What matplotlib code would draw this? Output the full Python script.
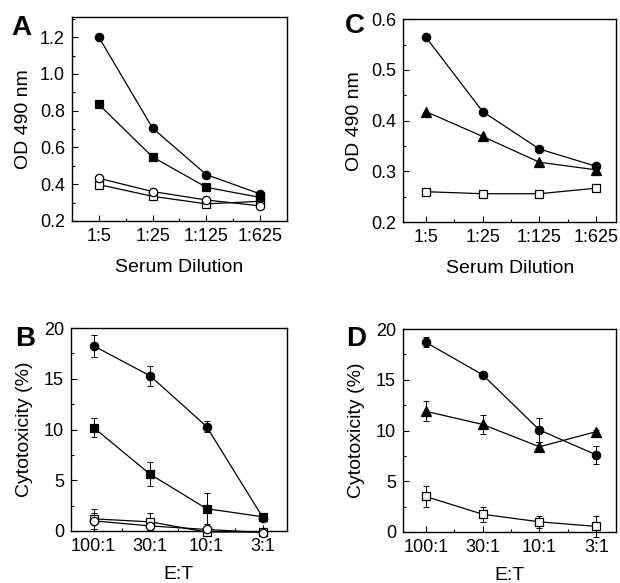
import matplotlib
matplotlib.use("Agg")
import matplotlib.pyplot as plt
from matplotlib.ticker import MultipleLocator, FixedLocator

plt.rcParams['font.family'] = ['Liberation Sans', 'DejaVu Sans']

dilutions = ["1:5", "1:25", "1:125", "1:625"]
et_ratios = ["100:1", "30:1", "10:1", "3:1"]

# Panel A (OD 490 nm)
a_filled_circle = [1.20, 0.705, 0.452, 0.347]
a_filled_square = [0.834, 0.548, 0.383, 0.328]
a_open_circle = [0.432, 0.360, 0.314, 0.282]
a_open_square = [0.398, 0.334, 0.293, 0.307]

# Panel C (OD 490 nm)
c_filled_circle = [0.565, 0.418, 0.344, 0.310]
c_triangle = [0.418, 0.369, 0.318, 0.303]
c_open_square = [0.260, 0.256, 0.256, 0.267]

# Panel B (Cytotoxicity %)
b_filled_circle = [18.25, 15.3, 10.3, 1.3]
b_filled_circle_err = [1.05, 1.0, 0.5, 0.3]
b_filled_square = [10.2, 5.6, 2.2, 1.4]
b_filled_square_err = [0.9, 1.2, 1.5, 0.3]
b_open_square = [1.2, 0.9, -0.1, -0.1]
b_open_square_err = [1.0, 0.9, 0.3, 0.3]
b_open_circle = [1.0, 0.5, 0.15, -0.15]
b_open_circle_err = [0.8, 0.4, 0.3, 0.3]

# Panel D (Cytotoxicity %)
d_filled_circle = [18.7, 15.5, 10.05, 7.6]
d_filled_circle_err = [0.5, 0.2, 1.2, 0.9]
d_triangle = [11.9, 10.6, 8.4, 9.9]
d_triangle_err = [1.0, 0.95, 0.45, 0.2]
d_open_square = [3.5, 1.75, 1.0, 0.55]
d_open_square_err = [1.0, 0.75, 0.6, 1.0]

fig = plt.figure(figsize=(6.2, 5.83), dpi=100)

axA = fig.add_axes([0.116, 0.621, 0.347, 0.350])
axC = fig.add_axes([0.650, 0.619, 0.344, 0.348])
axB = fig.add_axes([0.1145, 0.0892, 0.348, 0.348])
axD = fig.add_axes([0.650, 0.0875, 0.344, 0.348])

lw = 0.9
fs = 13
lfs = 14

def style(ax, labels, ylim, ymaj, ymin, xlim):
    x = list(range(len(labels)))
    ax.set_xlim(*xlim)
    ax.set_ylim(*ylim)
    ax.xaxis.set_major_locator(FixedLocator(x))
    ax.set_xticklabels(labels, fontsize=fs)
    ax.xaxis.set_minor_locator(FixedLocator([i + 0.5 for i in range(-1, len(labels))]))
    ax.yaxis.set_major_locator(MultipleLocator(ymaj))
    ax.yaxis.set_minor_locator(MultipleLocator(ymin))
    ax.tick_params(which='both', direction='in', top=False, right=False, labelsize=fs, width=0.8)
    ax.tick_params(which='major', length=4, pad=5)
    ax.tick_params(which='minor', length=2.5)
    for s in ax.spines.values():
        s.set_linewidth(1.0)

def series(ax, y, marker, filled, err=None, ms=6):
    x = list(range(len(y)))
    fc = 'black' if filled else 'white'
    if err is not None:
        ax.errorbar(x, y, yerr=err, fmt='none', ecolor='black', elinewidth=0.7,
                    capsize=2.5, capthick=0.7, clip_on=False, zorder=2)
    ax.plot(x, y, color='black', lw=lw, marker=marker, ms=ms, mfc=fc, mec='black',
            mew=0.9, clip_on=False, zorder=3)

# Panel A
series(axA, a_open_square, 's', False)
series(axA, a_open_circle, 'o', False)
series(axA, a_filled_square, 's', True)
series(axA, a_filled_circle, 'o', True)
style(axA, dilutions, (0.2, 1.31), 0.2, 0.1, (-0.5, 3.5))
axA.set_yticklabels([f"{v:.1f}" for v in axA.get_yticks()])
axA.set_ylabel("OD 490 nm", fontsize=lfs, labelpad=6)
axA.set_xlabel("Serum Dilution", fontsize=lfs, labelpad=10)

# Panel C
series(axC, c_open_square, 's', False)
series(axC, c_triangle, '^', True, ms=7)
series(axC, c_filled_circle, 'o', True)
style(axC, dilutions, (0.2, 0.6), 0.1, 0.05, (-0.4, 3.35))
axC.set_yticklabels([f"{v:.1f}" for v in axC.get_yticks()])
axC.set_ylabel("OD 490 nm", fontsize=lfs, labelpad=6)
axC.set_xlabel("Serum Dilution", fontsize=lfs, labelpad=10)

# Panel B
series(axB, b_open_square, 's', False, b_open_square_err)
series(axB, b_open_circle, 'o', False, b_open_circle_err)
series(axB, b_filled_circle, 'o', True, b_filled_circle_err)
series(axB, b_filled_square, 's', True, b_filled_square_err)
style(axB, et_ratios, (0, 20), 5, 2.5, (-0.4, 3.42))
axB.set_ylabel("Cytotoxicity (%)", fontsize=lfs, labelpad=8)
axB.set_xlabel("E:T", fontsize=lfs, labelpad=8)

# Panel D
series(axD, d_open_square, 's', False, d_open_square_err)
series(axD, d_triangle, '^', True, d_triangle_err, ms=7)
series(axD, d_filled_circle, 'o', True, d_filled_circle_err)
style(axD, et_ratios, (0, 20), 5, 2.5, (-0.4, 3.35))
axD.set_ylabel("Cytotoxicity (%)", fontsize=lfs, labelpad=8)
axD.set_xlabel("E:T", fontsize=lfs, labelpad=8)

# Panel letters
for txt, (px, py) in {"A": (11, 35), "C": (345, 33), "B": (15, 346), "D": (346, 346)}.items():
    fig.text(px / 620, 1 - py / 583, txt, fontsize=20, fontweight='bold', ha='left', va='baseline')

fig.savefig("out.png", dpi=100)
